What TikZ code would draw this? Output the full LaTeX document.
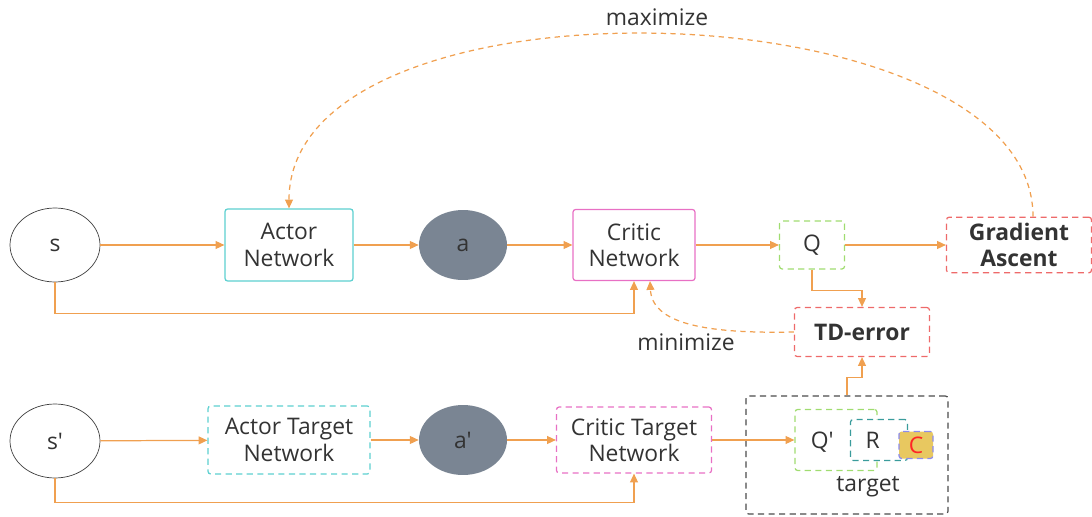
\documentclass[tikz,border=0pt]{standalone}
\usepackage{fontspec}
\setmainfont{Open Sans}[Ligatures=TeXOff]
\usetikzlibrary{shapes.geometric,arrows.meta}

\definecolor{flow}{HTML}{F0A050}
\definecolor{txt}{HTML}{333333}
\definecolor{actc}{HTML}{5CD0D0}
\definecolor{critc}{HTML}{E870C4}
\definecolor{qgreen}{HTML}{A0DC70}
\definecolor{errred}{HTML}{EE6A6A}
\definecolor{rteal}{HTML}{3A9C9C}
\definecolor{cfill}{HTML}{E8C860}
\definecolor{cblue}{HTML}{8C8CEE}
\definecolor{actfill}{HTML}{7A8593}

\begin{document}
\begin{tikzpicture}[
    x=0.02cm, y=-0.02cm,
    font=\fontsize{13}{15}\selectfont, text=txt,
    state/.style={ellipse, draw=black!75, thin, minimum width=1.8cm, minimum height=1.48cm},
    act/.style={ellipse, fill=actfill, minimum width=1.76cm, minimum height=1.4cm},
    box/.style={rectangle, draw, rounded corners=1.5pt, line width=0.7pt, align=center},
    dbox/.style={box, dash pattern=on 3.5pt off 2.5pt},
    arrow/.style={-{Triangle[length=5pt,width=4.5pt]}, flow, line width=0.7pt},
    darrow/.style={arrow, dash pattern=on 3pt off 2.5pt}
]
\useasboundingbox (0,0) rectangle (1092,517);

% online networks
\node[state] (s) at (55,245) {s};
\node[box, draw=actc, minimum width=2.56cm, minimum height=1.44cm] (actor) at (289,245) {Actor\\Network};
\node[act] (a) at (463,245) {a};
\node[box, draw=critc, minimum width=2.44cm, minimum height=1.42cm] (critic) at (634,245) {Critic\\Network};
\node[dbox, draw=qgreen, minimum width=1.3cm, minimum height=0.96cm] (q) at (812,245) {Q};
\node[dbox, draw=errred, minimum width=2.9cm, minimum height=0.96cm, font=\fontsize{13}{15}\selectfont\bfseries] (ga) at (1019,245) {Gradient\\Ascent};
\node[dbox, draw=errred, minimum width=2.7cm, minimum height=0.98cm, font=\fontsize{13}{15}\selectfont\bfseries] (td) at (862,332) {TD-error};

% target networks
\node[state] (s2) at (55,441) {s'};
\node[dbox, draw=actc, minimum width=3.24cm, minimum height=1.36cm] (actort) at (289,440) {Actor Target\\Network};
\node[act] (a2) at (463,440) {a'};
\node[dbox, draw=critc, minimum width=3.1cm, minimum height=1.32cm] (critict) at (634,440) {Critic Target\\Network};

% target value
\node[dbox, draw=black!70, minimum width=4.04cm, minimum height=2.36cm] (tgt) at (847,455) {};
\node[dbox, draw=qgreen, minimum width=1.64cm, minimum height=1.22cm, text depth=0pt] (qt) at (836,440) {\hspace*{-0.55cm}Q'};
\node[dbox, draw=rteal, fill=white, minimum width=1.14cm, minimum height=0.82cm] (r) at (879,440) {\hspace*{-0.25cm}R};
\node[dbox, draw=cblue, fill=cfill, text=red!85!white, minimum width=0.68cm, minimum height=0.54cm, inner sep=1pt] (c) at (916,445) {C};
\node (tlabel) at (868,487) {target};

% connectors
\draw[arrow] (s) -- (actor);
\draw[arrow] (actor) -- (a);
\draw[arrow] (a) -- (critic);
\draw[arrow] (critic) -- (q);
\draw[arrow] (q) -- (ga);
\draw[arrow] (s.south) -- ++(0,31) -| (critic.south);
\draw[arrow] (q.south) -- ++(0,21) -| (td.north);

\draw[arrow] (s2) -- (actort);
\draw[arrow] (actort) -- (a2);
\draw[arrow] (a2) -- (critict);
\draw[arrow] (critict) -- (qt);
\draw[arrow] (s2.south) -- ++(0,24) -| (critict.south);
\draw[arrow] (tgt.north) -- ++(0,-18) -| (td.south);

% losses
\draw[darrow] ([xshift=0.28cm]ga.north) .. controls (1033,-15) and (289,-35) .. (actor.north);
\node (maxlbl) at (657,17) {maximize};
\draw[darrow] (td.west) .. controls (700,334) and (652,322) .. ([xshift=0.32cm]critic.south);
\node (minlbl) at (686,342) {minimize};
\end{tikzpicture}
\end{document}
